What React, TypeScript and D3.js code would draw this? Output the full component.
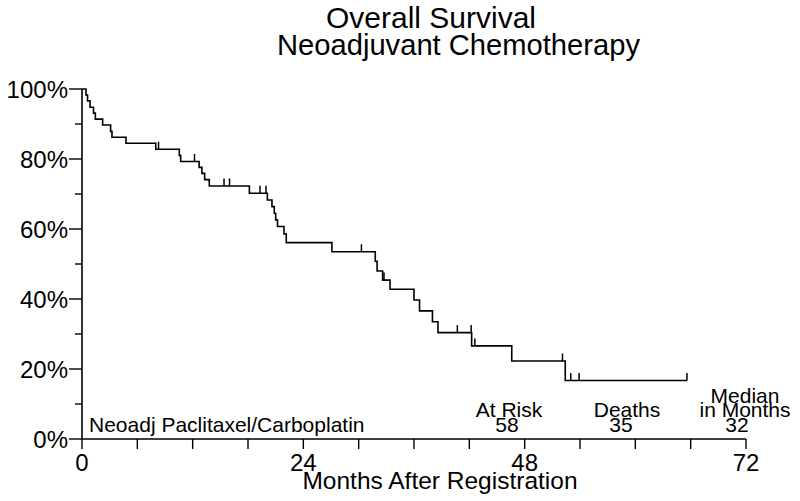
import React from "react";
import * as d3 from "d3";

// Kaplan–Meier step curve
const stepTimes = [0, 0.43, 0.6, 0.87, 1.25, 1.45, 2.24, 3.1, 3.25, 4.77, 8.0, 10.55, 10.7, 12.7, 13.0, 13.3, 13.8, 18.15, 20.1, 20.6, 20.85, 21.0, 21.2, 21.9, 22.15, 27.1, 31.8, 32.0, 32.6, 33.4, 36.0, 36.6, 38.0, 38.6, 42.25, 46.6, 52.4];
const stepSurv = [100, 98.3, 96.6, 94.8, 93.1, 91.4, 89.7, 87.9, 86.2, 84.5, 82.8, 81.0, 79.3, 77.6, 75.9, 74.1, 72.3, 70.2, 68.3, 66.4, 64.5, 62.6, 60.7, 58.6, 56.1, 53.5, 50.8, 48.0, 45.4, 42.8, 39.7, 36.6, 33.5, 30.4, 26.6, 22.3, 16.7];
const lastFollowUp = 65.6;
const censorTimes = [8.3, 12.2, 15.4, 16.0, 19.3, 19.95, 30.3, 32.75, 40.7, 42.2, 42.6, 52.1, 53.0, 53.9, 65.6];

const xTicks = d3.range(0, 73, 6);
const xTickLabels = [0, 24, 48, 72];
const yTicks = d3.range(0, 101, 10);
const yTickLabels = [0, 20, 40, 60, 80, 100];

const titleLines = ["Overall Survival", "Neoadjuvant Chemotherapy"];
const xTitle = "Months After Registration";
const groupName = "Neoadj Paclitaxel/Carboplatin";
const statHeaders = [["At Risk"], ["Deaths"], ["Median", "in Months"]];
const statValues = ["58", "35", "32"];

const FONT = "'Liberation Sans', Arial, Helvetica, sans-serif";

export default function App() {
  const x = d3.scaleLinear().domain([0, 72]).range([82, 746]);
  const y = d3.scaleLinear().domain([0, 100]).range([439, 89]);

  const pts: [number, number][] = stepTimes.map((t, i) => [t, stepSurv[i]]);
  pts.push([lastFollowUp, stepSurv[stepSurv.length - 1]]);
  const line = d3
    .line<[number, number]>()
    .x((d) => x(d[0]))
    .y((d) => y(d[1]))
    .curve(d3.curveStepAfter);

  const survAt = (t: number) => {
    let s = 100;
    for (let i = 0; i < stepTimes.length; i++) if (stepTimes[i] <= t) s = stepSurv[i];
    return s;
  };

  const statX = [509, 627, 745];
  const statValX = [507, 621, 737];

  return (
    <svg
      width={800}
      height={501}
      style={{ position: "absolute", left: 0, top: 0, background: "#fff" }}
      fontFamily={FONT}
    >
      <rect x={0} y={0} width={800} height={501} fill="#fff" />
      {/* titles */}
      <text x={431} y={28} fontSize={29.5} textAnchor="middle" fill="#000" textLength={210} lengthAdjust="spacingAndGlyphs">
        {titleLines[0]}
      </text>
      <text x={458.5} y={55} fontSize={29} textAnchor="middle" fill="#000" textLength={363} lengthAdjust="spacingAndGlyphs">
        {titleLines[1]}
      </text>

      {/* y axis */}
      <line x1={x(0)} x2={x(0)} y1={y(100)} y2={y(0)} stroke="#000" strokeWidth={1.6} />
      {yTicks.map((v) => (
        <line
          key={"yt" + v}
          x1={x(0) - (v % 20 === 0 ? 13 : 7)}
          x2={x(0)}
          y1={y(v)}
          y2={y(v)}
          stroke="#000"
          strokeWidth={1.4}
        />
      ))}
      {yTickLabels.map((v) => (
        <text key={"yl" + v} x={68} y={y(v) + 8.5} fontSize={24} textAnchor="end" fill="#000">
          {v + "%"}
        </text>
      ))}

      {/* x axis */}
      <line x1={x(0)} x2={x(72)} y1={y(0)} y2={y(0)} stroke="#000" strokeWidth={1.6} />
      {xTicks.map((v) => (
        <line key={"xt" + v} x1={x(v)} x2={x(v)} y1={y(0)} y2={y(0) + 10} stroke="#000" strokeWidth={1.4} />
      ))}
      {xTickLabels.map((v) => (
        <text key={"xl" + v} x={x(v)} y={471} fontSize={24} textAnchor="middle" fill="#000">
          {v}
        </text>
      ))}
      <text x={440} y={489} fontSize={24.5} textAnchor="middle" fill="#000">
        {xTitle}
      </text>

      {/* curve */}
      <path d={line(pts) || ""} fill="none" stroke="#000" strokeWidth={1.6} />
      {censorTimes.map((t, i) => {
        const s = survAt(t);
        return (
          <line key={"c" + i} x1={x(t)} x2={x(t)} y1={y(s)} y2={y(s) - 7.5} stroke="#000" strokeWidth={1.5} />
        );
      })}

      {/* annotations */}
      <text x={89} y={432} fontSize={21} fill="#000">
        {groupName}
      </text>
      {statHeaders.map((lines, i) =>
        lines.map((ln, j) => (
          <text
            key={"h" + i + j}
            x={statX[i]}
            y={417 - (lines.length - 1 - j) * 14.5}
            fontSize={21}
            textAnchor="middle"
            fill="#000"
          >
            {ln}
          </text>
        ))
      )}
      {statValues.map((v, i) => (
        <text key={"v" + i} x={statValX[i]} y={432} fontSize={21} textAnchor="middle" fill="#000">
          {v}
        </text>
      ))}
    </svg>
  );
}
